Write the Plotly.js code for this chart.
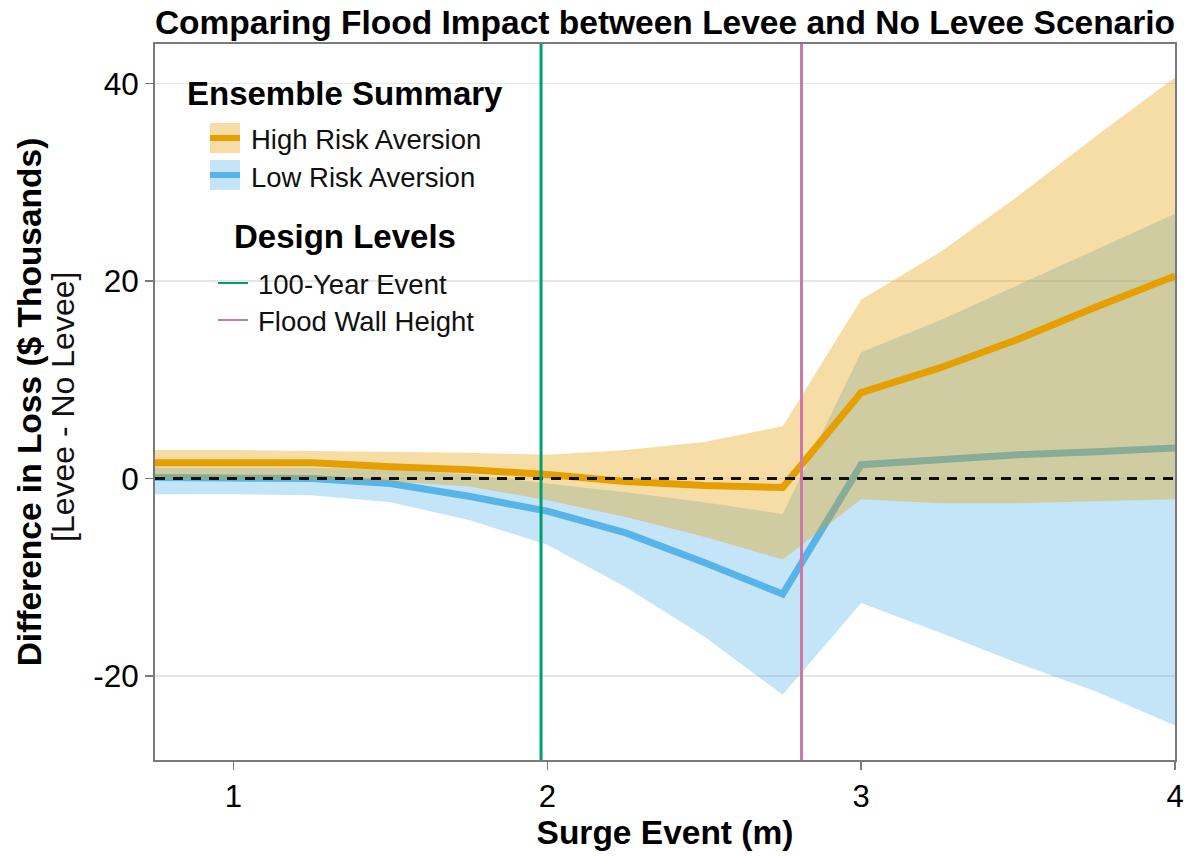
<!DOCTYPE html>
<html>
<head>
<meta charset="utf-8">
<script src="https://cdn.plot.ly/plotly-3.0.1.min.js"></script>
<style>html,body{margin:0;padding:0;background:#fff;}#chart{width:1197px;height:857px;}</style>
</head>
<body>
<div id="chart"></div>
<script>
// ---- data ----
const surge = [0.75, 1.0, 1.25, 1.5, 1.75, 2.0, 2.25, 2.5, 2.75, 3.0, 3.25, 3.5, 3.75, 4.0];

const highMedian = [1.6, 1.6, 1.6, 1.2, 0.9, 0.4, -0.3, -0.7, -0.9, 8.7, 11.2, 14.1, 17.4, 20.5];
const highUpper  = [2.9, 2.9, 2.8, 2.7, 2.6, 2.4, 2.9, 3.7, 5.3, 18.1, 22.9, 28.6, 34.7, 40.6];
const highLower  = [-0.1, -0.1, -0.1, -0.3, -0.8, -2.2, -3.9, -5.9, -8.2, -2.1, -2.5, -2.5, -2.3, -2.1];

const lowMedian = [0.1, 0.1, 0.0, -0.5, -1.8, -3.3, -5.5, -8.5, -11.7, 1.4, 1.9, 2.4, 2.7, 3.1];
const lowUpper  = [1.1, 1.1, 1.1, 0.9, 0.4, -0.5, -1.4, -2.4, -3.6, 12.8, 16.0, 19.6, 23.2, 26.8];
const lowLower  = [-1.6, -1.6, -1.7, -2.4, -4.2, -6.7, -11.0, -16.0, -21.9, -12.6, -15.6, -18.7, -21.6, -25.0];

const designNames  = ["100-Year Event", "Flood Wall Height"];
const designLevels = [1.98, 2.81];

const seriesNames = ["High Risk Aversion", "Low Risk Aversion"];
const yTickVals = [-20, 0, 20, 40];
const yTickText = ["-20", "0", "20", "40"];
const xTickVals = [1, 2, 3, 4];

// ---- styling ----
const ORANGE = "#E69F00", ORANGE_BAND = "rgba(230,159,0,0.35)";
const BLUE = "#56B4E9", BLUE_BAND = "rgba(86,180,233,0.35)";
const GREEN = "#009E73", PINK = "#CC79A7";
const FONT = "Liberation Sans, Arial, Helvetica, sans-serif";
const AXC = "#7a7a7a";

const W = 1197, H = 857;
const M = {l: 155, r: 22, t: 44, b: 97};
const PW = W - M.l - M.r, PH = H - M.t - M.b;
const px = v => (v - M.l) / PW;
const py = v => (H - M.b - v) / PH;

const traces = [
  // low risk band + line
  {x: surge, y: lowLower, mode: "lines", line: {width: 0, color: BLUE_BAND}, hoverinfo: "skip", showlegend: false},
  {x: surge, y: lowUpper, mode: "lines", fill: "tonexty", fillcolor: BLUE_BAND, line: {width: 0, color: BLUE_BAND}, hoverinfo: "skip", showlegend: false},
  {x: surge, y: lowMedian, mode: "lines", name: seriesNames[1], line: {width: 7, color: BLUE}, showlegend: false},
  // high risk band + line
  {x: surge, y: highLower, mode: "lines", line: {width: 0, color: ORANGE_BAND}, hoverinfo: "skip", showlegend: false},
  {x: surge, y: highUpper, mode: "lines", fill: "tonexty", fillcolor: ORANGE_BAND, line: {width: 0, color: ORANGE_BAND}, hoverinfo: "skip", showlegend: false},
  {x: surge, y: highMedian, mode: "lines", name: seriesNames[0], line: {width: 7, color: ORANGE}, showlegend: false}
];

const shapes = [
  // zero reference
  {type: "line", xref: "paper", x0: 0, x1: 1, yref: "y", y0: 0, y1: 0, line: {color: "#111", width: 3, dash: "10px,8px"}, layer: "above"},
  // design levels
  {type: "line", xref: "x", x0: designLevels[0], x1: designLevels[0], yref: "paper", y0: 0, y1: 1, line: {color: GREEN, width: 3}},
  {type: "line", xref: "x", x0: designLevels[1], x1: designLevels[1], yref: "paper", y0: 0, y1: 1, line: {color: PINK, width: 3}},
  // legend swatches
  {type: "rect", xref: "paper", yref: "paper", x0: px(210), x1: px(240), y0: py(153), y1: py(123), fillcolor: ORANGE_BAND, line: {width: 0}},
  {type: "line", xref: "paper", yref: "paper", x0: px(210), x1: px(240), y0: py(138), y1: py(138), line: {color: ORANGE, width: 6}},
  {type: "rect", xref: "paper", yref: "paper", x0: px(210), x1: px(240), y0: py(190), y1: py(160), fillcolor: BLUE_BAND, line: {width: 0}},
  {type: "line", xref: "paper", yref: "paper", x0: px(210), x1: px(240), y0: py(175), y1: py(175), line: {color: BLUE, width: 6}},
  {type: "line", xref: "paper", yref: "paper", x0: px(218), x1: px(248), y0: py(283), y1: py(283), line: {color: GREEN, width: 2}},
  {type: "line", xref: "paper", yref: "paper", x0: px(218), x1: px(248), y0: py(320), y1: py(320), line: {color: PINK, width: 2}}
];

const annotations = [
  {text: "<b>Ensemble Summary</b>", x: px(345), y: py(93), xref: "paper", yref: "paper", xanchor: "center", yanchor: "middle", showarrow: false, font: {size: 33, color: "#000", family: FONT}},
  {text: seriesNames[0], x: px(249), y: py(140), xref: "paper", yref: "paper", xanchor: "left", yanchor: "middle", showarrow: false, font: {size: 27.5, color: "#111", family: FONT}},
  {text: seriesNames[1], x: px(249), y: py(177), xref: "paper", yref: "paper", xanchor: "left", yanchor: "middle", showarrow: false, font: {size: 27.5, color: "#111", family: FONT}},
  {text: "<b>Design Levels</b>", x: px(345), y: py(237), xref: "paper", yref: "paper", xanchor: "center", yanchor: "middle", showarrow: false, font: {size: 33, color: "#000", family: FONT}},
  {text: designNames[0], x: px(256), y: py(284), xref: "paper", yref: "paper", xanchor: "left", yanchor: "middle", showarrow: false, font: {size: 27.5, color: "#111", family: FONT}},
  {text: designNames[1], x: px(256), y: py(321), xref: "paper", yref: "paper", xanchor: "left", yanchor: "middle", showarrow: false, font: {size: 27.5, color: "#111", family: FONT}},
  // second line of the y-axis title
  {text: "[Levee - No Levee]", x: px(63), y: py(407), xref: "paper", yref: "paper", xanchor: "center", yanchor: "middle", textangle: -90, showarrow: false, font: {size: 32, color: "#111", family: FONT}}
];

const layout = {
  width: W, height: H,
  margin: {l: M.l, r: M.r, t: M.t, b: M.b, pad: 0},
  paper_bgcolor: "#fff", plot_bgcolor: "#fff",
  font: {family: FONT, color: "#000"},
  showlegend: false,
  title: {text: "<b>Comparing Flood Impact between Levee and No Levee Scenario</b>", x: 0.5, xref: "paper", xanchor: "center", y: 1 - 22 / H, yref: "container", yanchor: "middle", font: {size: 33.5, color: "#000", family: FONT}},
  xaxis: {
    range: [0.75, 4.0], tickvals: xTickVals, showgrid: false, zeroline: false,
    showline: true, mirror: true, linecolor: AXC, linewidth: 2,
    ticks: "outside", ticklen: 8, tickwidth: 1.5, tickcolor: AXC,
    tickfont: {size: 31, color: "#000", family: FONT},
    title: {text: "<b>Surge Event (m)</b>", font: {size: 33.5, color: "#000", family: FONT}, standoff: 6}
  },
  yaxis: {
    range: [-28.5, 44.0], tickvals: yTickVals, ticktext: yTickText,
    showgrid: true, gridcolor: "#e6e6e6", gridwidth: 1.5, zeroline: false,
    showline: true, mirror: true, linecolor: AXC, linewidth: 2,
    ticks: "outside", ticklen: 8, tickwidth: 1.5, tickcolor: AXC,
    tickfont: {size: 31.5, color: "#000", family: FONT},
    title: {text: "<b>Difference in Loss ($ Thousands)</b>", font: {size: 33.5, color: "#000", family: FONT}, standoff: 41}
  },
  shapes: shapes,
  annotations: annotations
};

Plotly.newPlot("chart", traces, layout, {displayModeBar: false, staticPlot: true});
</script>
</body>
</html>
